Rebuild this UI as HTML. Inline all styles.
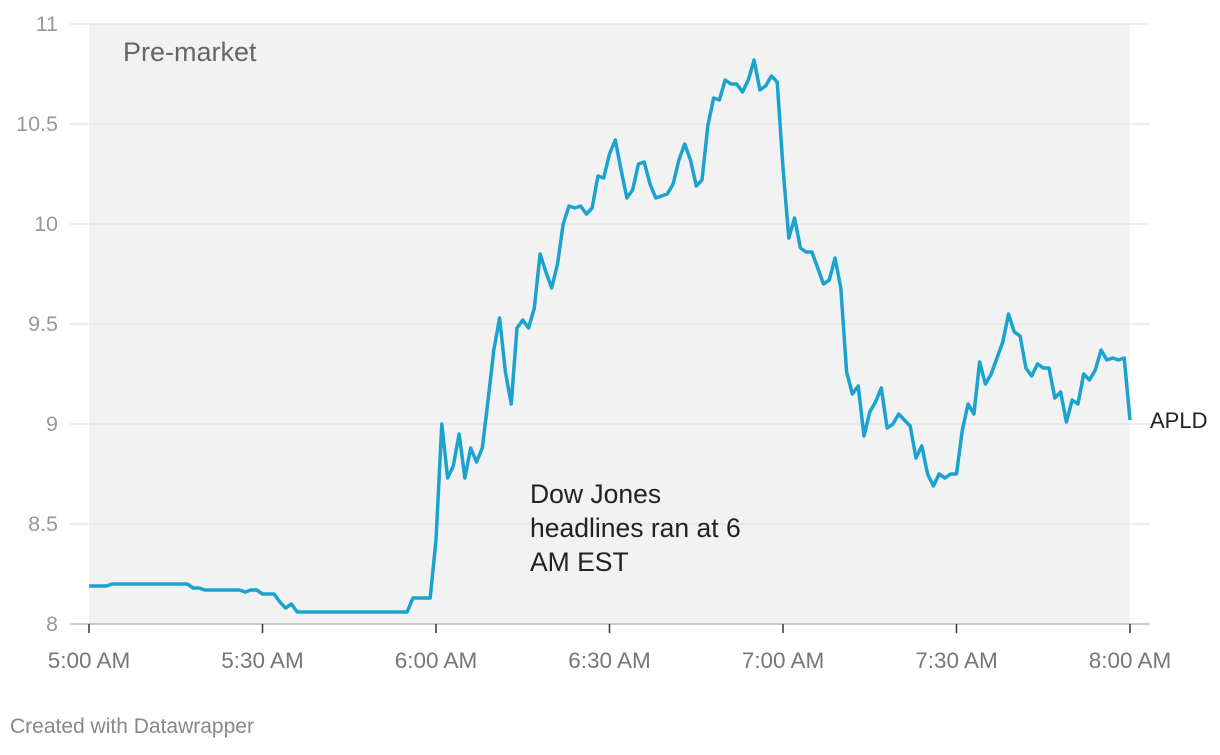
<!DOCTYPE html>
<html><head><meta charset="utf-8"><style>
body{margin:0;background:#fff;font-family:"Liberation Sans",sans-serif;}
svg text{font-family:"Liberation Sans",sans-serif;}
</style></head><body>
<svg width="1220" height="750">
<rect x="89" y="24" width="1041" height="600" fill="#f2f2f2"/>
<g id="grid2"></g>
<text x="123" y="61" font-size="27" fill="#666">Pre-market</text>
<text x="530" y="503" font-size="26.5" fill="#222"><tspan x="530">Dow Jones</tspan><tspan x="530" dy="34">headlines ran at 6</tspan><tspan x="530" dy="34">AM EST</tspan></text>
<path id="line" fill="none" stroke="#1ba3cf" stroke-width="3.5" stroke-linejoin="round"/>
<text x="1150" y="428" font-size="22" fill="#222">APLD</text>
<text x="10" y="733" font-size="21" fill="#888">Created with Datawrapper</text>
</svg>
<script>
const yTicks=[8,8.5,9,9.5,10,10.5,11];
const yTickLabels=["8","8.5","9","9.5","10","10.5","11"];
const xTicks=[0,30,60,90,120,150,180];
const xTickLabels=["5:00 AM","5:30 AM","6:00 AM","6:30 AM","7:00 AM","7:30 AM","8:00 AM"];
const prices=[8.19,8.19,8.19,8.19,8.2,8.2,8.2,8.2,8.2,8.2,8.2,8.2,8.2,8.2,8.2,8.2,8.2,8.2,8.18,8.18,
8.17,8.17,8.17,8.17,8.17,8.17,8.17,8.16,8.17,8.17,8.15,8.15,8.15,8.11,8.08,8.1,
8.06,8.06,8.06,8.06,8.06,8.06,8.06,8.06,8.06,8.06,8.06,8.06,8.06,8.06,8.06,8.06,8.06,8.06,8.06,8.06,
8.13,8.13,8.13,8.13,8.42,
9.0,8.73,8.79,8.95,8.73,8.88,8.81,8.88,9.12,9.37,9.53,9.26,9.1,9.48,9.52,9.48,9.58,9.85,9.76,9.68,
9.8,10.0,10.09,10.08,10.09,10.05,10.08,10.24,10.23,10.35,10.42,10.27,10.13,10.17,10.3,10.31,10.2,10.13,10.14,10.15,
10.2,10.32,10.4,10.32,10.19,10.22,10.49,10.63,10.62,10.72,10.7,10.7,10.66,10.72,10.82,10.67,10.69,10.74,10.71,10.28,
9.93,10.03,9.88,9.86,9.86,9.78,9.7,9.72,9.83,9.68,9.26,9.15,9.19,8.94,9.06,9.11,9.18,8.98,9.0,9.05,
9.02,8.99,8.83,8.89,8.75,8.69,8.75,8.73,8.75,8.75,8.97,9.1,9.05,9.31,9.2,9.25,9.33,9.41,9.55,9.46,
9.44,9.28,9.24,9.3,9.28,9.28,9.13,9.16,9.01,9.12,9.1,9.25,9.22,9.27,9.37,9.32,9.33,9.32,9.33,9.02];
const NS="http://www.w3.org/2000/svg";
const xS=m=>89+m*(1041/180);
const yS=v=>624-(v-8)*200;
const g=document.getElementById('grid2');
yTicks.forEach((t,i)=>{
  const l=document.createElementNS(NS,'line');
  
  
  l.setAttribute('x1',70);l.setAttribute('x2',1150);
  l.setAttribute('y1',yS(t));l.setAttribute('y2',yS(t));
  l.setAttribute('stroke',t===8?'#bbb':'#e3e3e3');l.setAttribute('stroke-width',t===8?1.5:1.2);
  g.appendChild(l);
  const tx=document.createElementNS(NS,'text');
  
  
  tx.setAttribute('x',58);tx.setAttribute('y',yS(t)+7);
  tx.setAttribute('text-anchor','end');tx.setAttribute('font-size','21.5');tx.setAttribute('fill','#999');
  tx.textContent=yTickLabels[i];g.appendChild(tx);
});
xTicks.forEach((t,i)=>{
  const l=document.createElementNS(NS,'line');
  
  
  l.setAttribute('x1',xS(t));l.setAttribute('x2',xS(t));
  l.setAttribute('y1',624);l.setAttribute('y2',633);
  l.setAttribute('stroke','#333');l.setAttribute('stroke-width',1.5);
  g.appendChild(l);
  const tx=document.createElementNS(NS,'text');
  
  
  tx.setAttribute('x',xS(t));tx.setAttribute('y',668);
  tx.setAttribute('text-anchor','middle');tx.setAttribute('font-size','22.5');tx.setAttribute('fill','#777');
  tx.textContent=xTickLabels[i];g.appendChild(tx);
});
document.getElementById('line').setAttribute('d',prices.map((v,i)=>(i?'L':'M')+xS(i).toFixed(1)+','+yS(v).toFixed(1)).join(''));
</script>
</body></html>
